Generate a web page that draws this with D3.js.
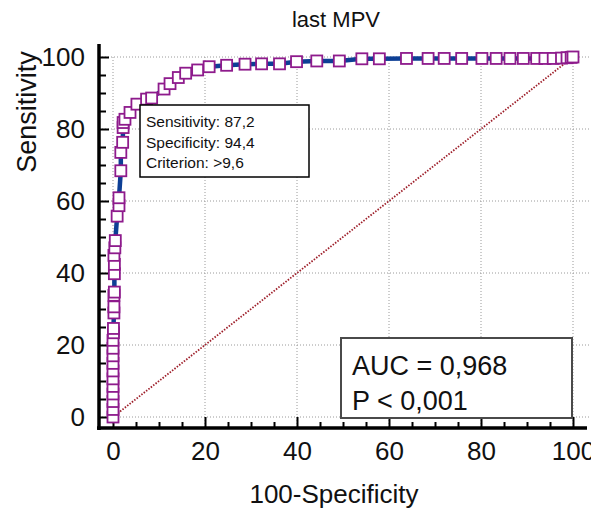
<!DOCTYPE html>
<html>
<head>
<meta charset="utf-8">
<script src="https://cdn.jsdelivr.net/npm/d3@7"></script>
<style>
  body { margin: 0; background: #fff; }
  svg text { font-family: "Liberation Sans", Arial, sans-serif; fill: #111; }
</style>
</head>
<body>
<svg id="chart" width="591" height="510"></svg>
<script>

// ROC points (100-specificity, sensitivity)
var fpr_values = [0, 0, 0, 0, 0, 0, 0, 0, 0, 0, 0, 0.1, 0.1, 0.2, 0.2, 0.2, 0.3, 0.3, 0.3,
                  0.2, 0.4, 0.5, 0.9, 1.3, 1.3, 1.7, 1.7, 2.1, 2.2, 2.2,
                  2.6, 3.7, 5.2, 7.3, 8.4, 11.1, 12.4, 14.2, 15.8, 18.4, 20.9, 24.7, 28.7,
                  32.3, 36.2, 39.9, 44.3, 49.2, 54.1, 57.9, 63.8, 68.5, 72.0, 75.8, 80.2,
                  83.3, 86.3, 89.2, 92.1, 93.9, 95.7, 97.5, 98.7, 99.6, 100];
var sens_values = [0, 2.1, 4.3, 6.4, 8.5, 10.6, 12.8, 14.9, 17.0, 19.1, 21.3, 23.4, 24.6, 28.9, 30.6, 33.8, 34.7, 39.8, 42.4,
                   44.9, 47.0, 49.0, 55.8, 58.7, 60.9, 68.4, 73.5, 76.3, 80.4, 81.8,
                   82.7, 84.6, 86.9, 88.3, 88.6, 91.1, 92.6, 94.3, 95.5, 96.4, 97.3, 97.7, 98.0,
                   98.1, 98.1, 98.7, 98.9, 98.9, 99.5, 99.5, 99.6, 99.6, 99.6, 99.6, 99.6,
                   99.6, 99.6, 99.6, 99.6, 99.6, 99.6, 99.7, 99.8, 99.9, 100];

var major_ticks = [0, 20, 40, 60, 80, 100];
var minor_ticks = [5, 10, 15, 25, 30, 35, 45, 50, 55, 65, 70, 75, 85, 90, 95];
var chart_title = "last MPV";
var x_title = "100-Specificity";
var y_title = "Sensitivity";
var criterion_lines = ["Sensitivity: 87,2", "Specificity: 94,4", "Criterion: >9,6"];
var auc_lines = ["AUC = 0,968", "P < 0,001"];

var svg = d3.select("#chart");

var x = d3.scaleLinear().domain([0, 100]).range([113, 573]);
var y = d3.scaleLinear().domain([0, 100]).range([417, 57]);

var axis_x_pos = 99,
    axis_y_pos = 428;

//dotted grid
svg.append("g").selectAll("line.vgrid")
    .data(major_ticks)
    .join("line")
    .attr("x1", d => x(d)).attr("x2", d => x(d))
    .attr("y1", y(100)).attr("y2", axis_y_pos)
    .attr("stroke", "#9a9a9a").attr("stroke-width", 1).attr("stroke-dasharray", "1,2");

svg.append("g").selectAll("line.hgrid")
    .data(major_ticks)
    .join("line")
    .attr("x1", axis_x_pos).attr("x2", 590)
    .attr("y1", d => y(d)).attr("y2", d => y(d))
    .attr("stroke", "#9a9a9a").attr("stroke-width", 1).attr("stroke-dasharray", "1,2");

//reference diagonal
svg.append("line")
    .attr("x1", x(0)).attr("y1", y(0))
    .attr("x2", x(100)).attr("y2", y(100))
    .attr("stroke", "#9e1f2a").attr("stroke-width", 1.8).attr("stroke-dasharray", "1.5,1.5");

//axes: minor ticks first, then major ones with labels
function style_axis(g) {
    g.select(".domain").remove();
    g.selectAll(".tick line").attr("stroke", "#000").attr("stroke-width", 2);
    g.selectAll(".tick text").attr("font-size", 26).attr("fill", "#111")
        .style("font-family", "'Liberation Sans', Arial, sans-serif");
}

svg.append("g").attr("transform", "translate(0," + axis_y_pos + ")")
    .call(d3.axisBottom(x).tickValues(minor_ticks).tickSize(-6).tickFormat(""))
    .call(style_axis);
svg.append("g").attr("transform", "translate(0," + axis_y_pos + ")")
    .call(d3.axisBottom(x).tickValues(major_ticks).tickSize(-11).tickPadding(14))
    .call(style_axis);

svg.append("g").attr("transform", "translate(" + axis_x_pos + ",0)")
    .call(d3.axisLeft(y).tickValues(minor_ticks).tickSize(-7).tickFormat(""))
    .call(style_axis);
svg.append("g").attr("transform", "translate(" + axis_x_pos + ",0)")
    .call(d3.axisLeft(y).tickValues(major_ticks).tickSize(-10).tickPadding(14))
    .call(style_axis);

//thick axis lines
svg.append("line").attr("x1", axis_x_pos).attr("x2", axis_x_pos).attr("y1", 44).attr("y2", axis_y_pos + 2)
    .attr("stroke", "#000").attr("stroke-width", 3.5);
svg.append("line").attr("x1", axis_x_pos - 2).attr("x2", 587).attr("y1", axis_y_pos).attr("y2", axis_y_pos)
    .attr("stroke", "#000").attr("stroke-width", 3.5);

//roc curve
var roc_data = fpr_values.map((d, i) => ({fpr: d, sens: sens_values[i]}));

var roc_line = d3.line().x(d => x(d.fpr)).y(d => y(d.sens));

svg.append("path")
    .datum(roc_data)
    .attr("d", roc_line)
    .attr("fill", "none")
    .attr("stroke", "#0d3f95")
    .attr("stroke-width", 4.5)
    .attr("stroke-linejoin", "round");

svg.append("g").selectAll("rect")
    .data(roc_data)
    .join("rect")
    .attr("x", d => x(d.fpr) - 5.5)
    .attr("y", d => y(d.sens) - 5.5)
    .attr("width", 11)
    .attr("height", 11)
    .attr("fill", "#fff")
    .attr("stroke", "#8e1b8c")
    .attr("stroke-width", 1.8);

//criterion box
svg.append("rect")
    .attr("x", 140).attr("y", 105).attr("width", 169).attr("height", 72)
    .attr("fill", "#fff").attr("stroke", "#000").attr("stroke-width", 1.5);

svg.append("g").selectAll("text")
    .data(criterion_lines)
    .join("text")
    .attr("x", 146)
    .attr("y", (d, i) => 127 + i * 20.5)
    .attr("font-size", 15.5)
    .text(d => d);

//auc box
svg.append("rect")
    .attr("x", 341).attr("y", 338).attr("width", 231).attr("height", 80)
    .attr("fill", "#fff").attr("stroke", "#4a4a4a").attr("stroke-width", 2);

svg.append("g").selectAll("text")
    .data(auc_lines)
    .join("text")
    .attr("x", 352)
    .attr("y", (d, i) => 375 + i * 35)
    .attr("font-size", 27)
    .text(d => d);

//titles
svg.append("text")
    .attr("x", 336).attr("y", 27)
    .attr("text-anchor", "middle")
    .attr("font-size", 22)
    .text(chart_title);

svg.append("text")
    .attr("x", 334).attr("y", 503)
    .attr("text-anchor", "middle")
    .attr("font-size", 26)
    .text(x_title);

svg.append("text")
    .attr("transform", "translate(36,112) rotate(-90)")
    .attr("text-anchor", "middle")
    .attr("font-size", 27)
    .text(y_title);

</script>
</body>
</html>
